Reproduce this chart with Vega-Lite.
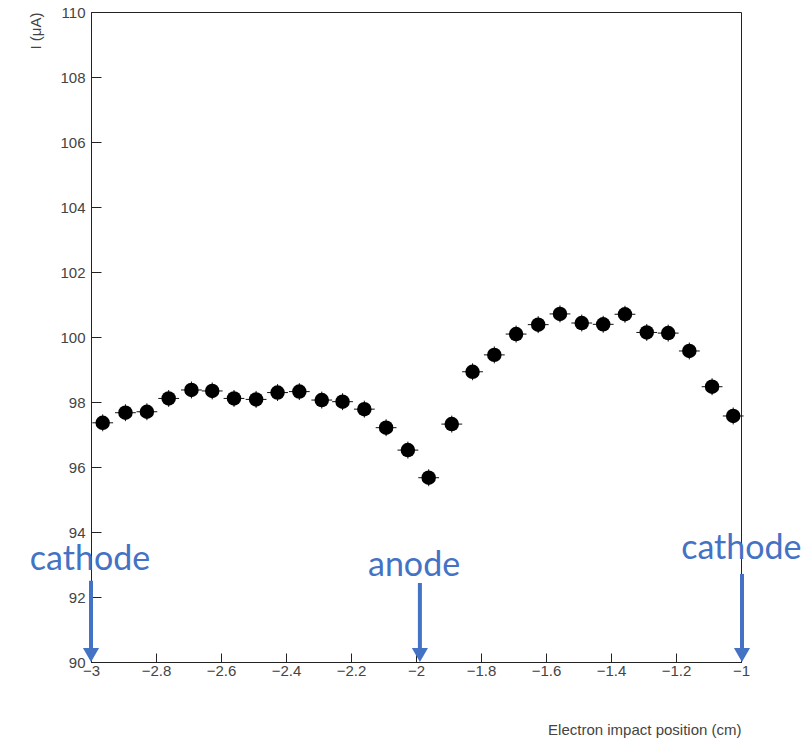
{
  "$schema": "https://vega.github.io/schema/vega-lite/v6.json",
  "width": 650,
  "height": 650,
  "autosize": "none",
  "padding": {"left": 91, "top": 12, "right": 64, "bottom": 82},
  "background": "white",
  "config": {
    "view": {"stroke": "#222", "strokeWidth": 1},
    "axis": {"grid": false, "labelFont": "Liberation Sans", "titleFont": "Liberation Sans", "labelColor": "#444", "titleColor": "#444", "domainColor": "#222", "tickColor": "#222"}
  },
  "datasets": {
    "points": [
      {"x": -2.964, "y": 97.36},
      {"x": -2.894, "y": 97.67},
      {"x": -2.828, "y": 97.70},
      {"x": -2.761, "y": 98.11},
      {"x": -2.691, "y": 98.37},
      {"x": -2.627, "y": 98.34},
      {"x": -2.560, "y": 98.11},
      {"x": -2.492, "y": 98.08},
      {"x": -2.426, "y": 98.29},
      {"x": -2.359, "y": 98.32},
      {"x": -2.290, "y": 98.06},
      {"x": -2.226, "y": 98.01},
      {"x": -2.159, "y": 97.78},
      {"x": -2.092, "y": 97.21},
      {"x": -2.025, "y": 96.52},
      {"x": -1.961, "y": 95.67},
      {"x": -1.890, "y": 97.32},
      {"x": -1.826, "y": 98.93},
      {"x": -1.759, "y": 99.45},
      {"x": -1.692, "y": 100.09},
      {"x": -1.624, "y": 100.38},
      {"x": -1.557, "y": 100.71},
      {"x": -1.490, "y": 100.43},
      {"x": -1.424, "y": 100.39},
      {"x": -1.357, "y": 100.70},
      {"x": -1.290, "y": 100.14},
      {"x": -1.224, "y": 100.12},
      {"x": -1.159, "y": 99.57},
      {"x": -1.089, "y": 98.47},
      {"x": -1.024, "y": 97.57}
    ],
    "labels": [
      {"x": -3.003, "y": 93.13, "text": "cathode", "ax": -3.0, "top": 92.5},
      {"x": -2.006, "y": 92.95, "text": "anode", "ax": -1.988, "top": 92.43},
      {"x": -0.999, "y": 93.48, "text": "cathode", "ax": -0.997, "top": 92.71}
    ]
  },
  "layer": [
    {
      "data": {"name": "points"},
      "transform": [
        {"calculate": "datum.x - 0.032", "as": "xlo"},
        {"calculate": "datum.x + 0.032", "as": "xhi"}
      ],
      "mark": {"type": "rule", "color": "#111", "strokeWidth": 1},
      "encoding": {
        "x": {"field": "xlo", "type": "quantitative"},
        "x2": {"field": "xhi"},
        "y": {"field": "y", "type": "quantitative"}
      }
    },
    {
      "data": {"name": "points"},
      "transform": [
        {"calculate": "datum.y - 0.26", "as": "ylo"},
        {"calculate": "datum.y + 0.26", "as": "yhi"}
      ],
      "mark": {"type": "rule", "color": "#111", "strokeWidth": 1},
      "encoding": {
        "x": {"field": "x", "type": "quantitative"},
        "y": {"field": "ylo", "type": "quantitative"},
        "y2": {"field": "yhi"}
      }
    },
    {
      "data": {"name": "points"},
      "mark": {"type": "point", "filled": true, "shape": "circle", "size": 210, "color": "#000", "opacity": 1},
      "encoding": {
        "x": {
          "field": "x", "type": "quantitative",
          "scale": {"domain": [-3, -1], "nice": false, "zero": false},
          "axis": {
            "values": [-3, -2.95, -2.9, -2.85, -2.8, -2.75, -2.7, -2.65, -2.6, -2.55, -2.5, -2.45, -2.4, -2.35, -2.3, -2.25, -2.2, -2.15, -2.1, -2.05, -2, -1.95, -1.9, -1.85, -1.8, -1.75, -1.7, -1.65, -1.6, -1.55, -1.5, -1.45, -1.4, -1.35, -1.3, -1.25, -1.2, -1.15, -1.1, -1.05, -1],
            "labelExpr": "abs(datum.value*5 - round(datum.value*5)) < 0.001 ? format(datum.value, '.1~f') : ''",
            "tickSize": {"condition": {"test": "abs(datum.value*5 - round(datum.value*5)) < 0.001", "value": -9}, "value": -5},
            "labelPadding": 10,
            "labelFontSize": 15,
            "labelFlush": false,
            "labelOverlap": false,
            "title": "Electron impact position (cm)",
            "titleFontSize": 15,
            "titleFontWeight": "normal",
            "titleAnchor": "end",
            "titlePadding": 44
          }
        },
        "y": {
          "field": "y", "type": "quantitative",
          "scale": {"domain": [90, 110], "nice": false, "zero": false},
          "axis": {
            "values": [90, 90.5, 91, 91.5, 92, 92.5, 93, 93.5, 94, 94.5, 95, 95.5, 96, 96.5, 97, 97.5, 98, 98.5, 99, 99.5, 100, 100.5, 101, 101.5, 102, 102.5, 103, 103.5, 104, 104.5, 105, 105.5, 106, 106.5, 107, 107.5, 108, 108.5, 109, 109.5, 110],
            "labelExpr": "abs(datum.value/2 - round(datum.value/2)) < 0.001 ? format(datum.value, 'd') : ''",
            "tickSize": {"condition": {"test": "abs(datum.value/2 - round(datum.value/2)) < 0.001", "value": -10}, "value": -5},
            "labelPadding": 16,
            "labelFontSize": 15,
            "labelOverlap": false,
            "labelFlush": false,
            "title": "I (μA)",
            "titleFontSize": 15,
            "titleFontWeight": "normal",
            "titleAnchor": "end",
            "titlePadding": 16
          }
        }
      }
    },
    {
      "data": {"name": "labels"},
      "mark": {"type": "rule", "color": "#4472C4", "strokeWidth": 4},
      "encoding": {
        "x": {"field": "ax", "type": "quantitative"},
        "y": {"field": "top", "type": "quantitative"},
        "y2": {"datum": 90.35}
      }
    },
    {
      "data": {"name": "labels"},
      "mark": {"type": "point", "shape": "triangle-down", "filled": true, "size": 260, "color": "#4472C4", "opacity": 1, "yOffset": -7},
      "encoding": {
        "x": {"field": "ax", "type": "quantitative"},
        "y": {"datum": 90}
      }
    },
    {
      "data": {"name": "labels"},
      "mark": {"type": "text", "color": "#4472C4", "font": "Lato", "fontSize": 34, "align": "center", "baseline": "middle"},
      "encoding": {
        "x": {"field": "x", "type": "quantitative"},
        "y": {"field": "y", "type": "quantitative"},
        "text": {"field": "text"}
      }
    }
  ]
}
